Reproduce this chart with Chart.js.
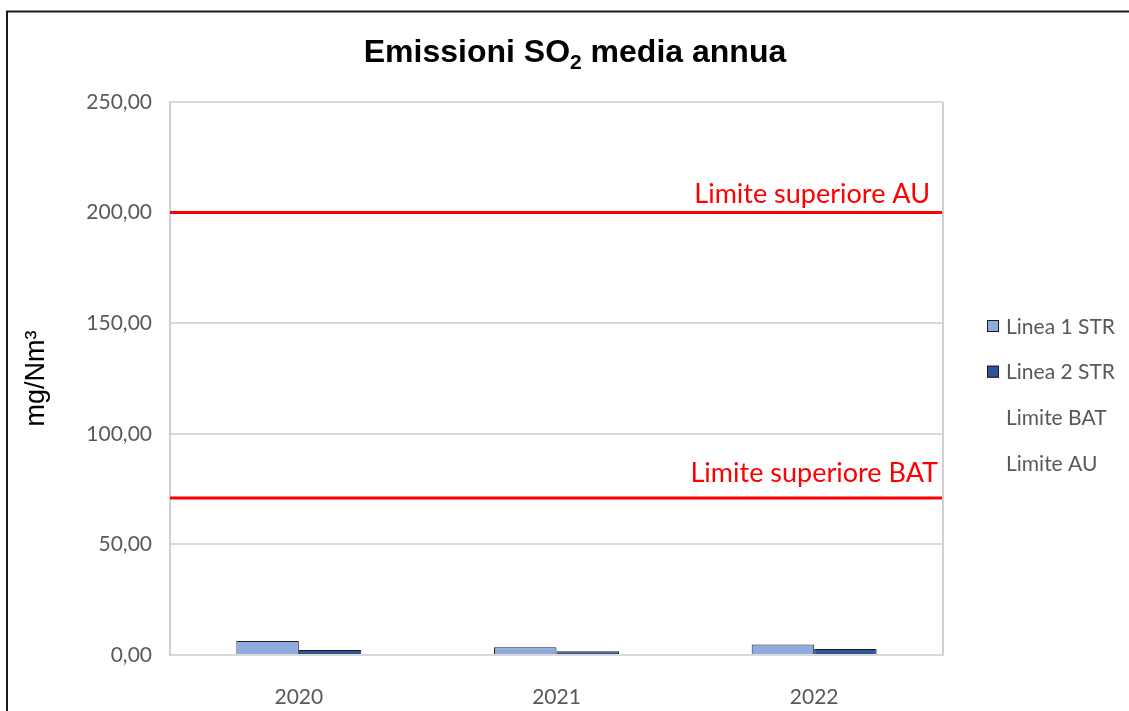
<!DOCTYPE html>
<html><head><meta charset="utf-8">
<script src="https://cdn.jsdelivr.net/npm/chart.js@4/dist/chart.umd.min.js"></script>
<style>html,body{margin:0;padding:0;background:#fff;overflow:hidden}canvas{display:block}</style>
</head><body>
<canvas id="c" width="1129" height="711"></canvas>
<script>
const categories = ['2020', '2021', '2022'];
const linea1 = [6.3, 3.5, 4.7];
const linea2 = [2.3, 1.7, 2.7];
const limiteBAT = [71, 71, 71];
const limiteAU = [200, 200, 200];
const seriesNames = ['Linea 1 STR', 'Linea 2 STR', 'Limite BAT', 'Limite AU'];
const lineLabels = ['Limite superiore BAT', 'Limite superiore AU'];
const yMax = 250;
const yStep = 50;
const titleParts = ['Emissioni SO', '2', ' media annua'];
const yTitle = 'mg/Nm³';

const LBL = 'Lato, "Open Sans", sans-serif';
const GRAY = '#595959';

const overlay = {
  id: 'overlay',
  beforeDraw(chart) {
    const ctx = chart.ctx;
    ctx.save();
    ctx.fillStyle = '#fff';
    ctx.fillRect(0, 0, chart.width, chart.height);
    ctx.restore();
  },
  afterDraw(chart) {
    const ctx = chart.ctx, a = chart.chartArea, ys = chart.scales.y;
    ctx.save();
    ctx.strokeStyle = '#d0d0d0'; ctx.lineWidth = 2;
    ctx.beginPath(); ctx.moveTo(a.right, a.top); ctx.lineTo(a.right, a.bottom); ctx.stroke();
    ctx.strokeStyle = '#1a1a1a'; ctx.lineWidth = 2;
    ctx.beginPath(); ctx.moveTo(chart.width, 11.5); ctx.lineTo(7, 11.5); ctx.lineTo(7, chart.height); ctx.stroke();
    ctx.fillStyle = '#000';
    const big = 'bold 32px "Liberation Sans", Arial, sans-serif';
    const small = 'bold 21px "Liberation Sans", Arial, sans-serif';
    ctx.font = big; const w1 = ctx.measureText(titleParts[0]).width; const w3 = ctx.measureText(titleParts[2]).width;
    ctx.font = small; const w2 = ctx.measureText(titleParts[1]).width;
    const total = w1 + w2 + w3; let x = 575 - total / 2; const by = 62;
    ctx.textAlign = 'left'; ctx.textBaseline = 'alphabetic';
    ctx.font = big; ctx.fillText(titleParts[0], x, by); x += w1;
    ctx.font = small; ctx.fillText(titleParts[1], x, by + 7); x += w2;
    ctx.font = big; ctx.fillText(titleParts[2], x, by);
    ctx.fillStyle = '#ff0000'; ctx.font = '27px ' + LBL; ctx.textAlign = 'right';
    ctx.fillText(lineLabels[0], a.right - 5, ys.getPixelForValue(limiteBAT[0]) - 16);
    ctx.fillText(lineLabels[1], a.right - 13, ys.getPixelForValue(limiteAU[0]) - 10);
    ctx.font = '21px ' + LBL; ctx.textAlign = 'left'; ctx.textBaseline = 'middle';
    chart.data.datasets.forEach((ds, i) => {
      const cy = 326 + i * 45.7;
      if (ds.type !== 'line') {
        ctx.fillStyle = ds.backgroundColor; ctx.fillRect(987, cy - 6, 12, 12);
        ctx.strokeStyle = '#1a1a1a'; ctx.lineWidth = 1; ctx.strokeRect(987.5, cy - 5.5, 11, 11);
      }
      ctx.fillStyle = GRAY; ctx.fillText(ds.label, 1006, cy + 1);
    });
    ctx.restore();
  }
};

new Chart(document.getElementById('c'), {
  type: 'bar',
  data: {
    labels: categories,
    datasets: [
      { type: 'bar', indexAxis: 'x', label: seriesNames[0], data: linea1, backgroundColor: '#8faadc', borderColor: '#1f1f1f', borderWidth: 1, xAxisID: 'x', yAxisID: 'y', categoryPercentage: 0.485, barPercentage: 1 },
      { type: 'bar', indexAxis: 'x', label: seriesNames[1], data: linea2, backgroundColor: '#2f5597', borderColor: '#1f1f1f', borderWidth: 1, xAxisID: 'x', yAxisID: 'y', categoryPercentage: 0.485, barPercentage: 1 },
      { type: 'line', indexAxis: 'x', label: seriesNames[2], data: limiteBAT, borderColor: '#ff0000', borderWidth: 3, pointRadius: 0, xAxisID: 'x2', yAxisID: 'y' },
      { type: 'line', indexAxis: 'x', label: seriesNames[3], data: limiteAU, borderColor: '#ff0000', borderWidth: 3, pointRadius: 0, xAxisID: 'x2', yAxisID: 'y' }
    ]
  },
  options: {
    indexAxis: 'y',
    responsive: false,
    animation: false,
    layout: { padding: { top: 102, left: 8, right: 186, bottom: 0 } },
    plugins: { legend: { display: false }, title: { display: false }, tooltip: { enabled: false } },
    scales: {
      x: {
        type: 'category', axis: 'x', position: 'bottom',
        offset: true,
        grid: { display: false, offset: true },
        border: { display: true, color: '#d9d9d9', width: 2 },
        ticks: { color: GRAY, font: { family: LBL, size: 21 }, padding: 22 },
        afterFit: (s) => { s.height = 56; }
      },
      x2: { type: 'category', axis: 'x', position: 'bottom', offset: false, display: false },
      y: {
        type: 'linear', axis: 'y', position: 'left', offset: false, beginAtZero: true,
        min: 0, max: yMax,
        grid: { color: '#d9d9d9', lineWidth: 2, drawTicks: false, offset: false },
        border: { display: true, color: '#d0d0d0', width: 2 },
        ticks: { stepSize: yStep, color: GRAY, padding: 18, font: { family: LBL, size: 21 },
          callback: (v) => v.toFixed(2).replace('.', ',') },
        title: { display: true, text: yTitle, color: '#000', font: { family: '"Liberation Sans", Arial, sans-serif', size: 27 }, padding: { top: 12, bottom: 0 } },
        afterFit: (s) => { s.width = 162; }
      }
    }
  },
  plugins: [overlay]
});
</script>
</body></html>
